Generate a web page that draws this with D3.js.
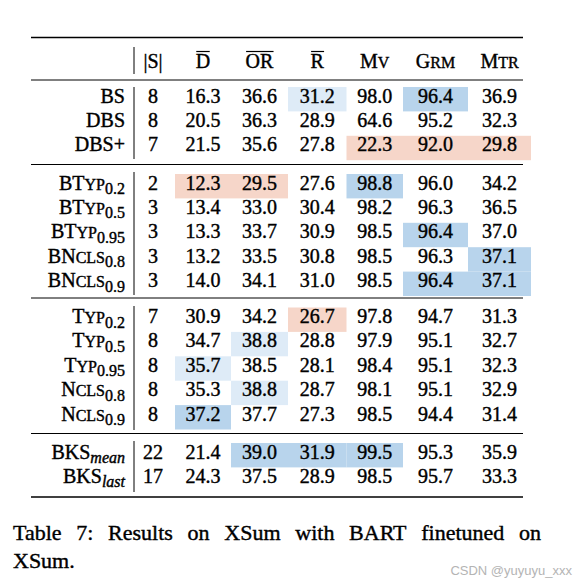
<!DOCTYPE html>
<html><head><meta charset="utf-8">
<script src="https://cdn.jsdelivr.net/npm/d3@7"></script>
<style>
html,body{margin:0;padding:0;background:#fff;}
svg{display:block;}
</style></head>
<body>
<svg id="c" width="588" height="588"></svg>
<script>
// ---------- data ----------
const columns = ["D","OR","R","Mv","Grm","Mtr"];
const rowNames = ["BS","DBS","DBS+","BTyp0.2","BTyp0.5","BTyp0.95","BNcls0.8","BNcls0.9",
  "Typ0.2","Typ0.5","Typ0.95","Ncls0.8","Ncls0.9","BKSmean","BKSlast"];
const rowGroups = [0,0,0,1,1,1,1,1,2,2,2,2,2,3,3];
const sizes = [8,8,7,2,3,3,3,3,7,8,8,8,8,22,17];
const valD   = [16.3,20.5,21.5,12.3,13.4,13.3,13.2,14.0,30.9,34.7,35.7,35.3,37.2,21.4,24.3];
const valOR  = [36.6,36.3,35.6,29.5,33.0,33.7,33.5,34.1,34.2,38.8,38.5,38.8,37.7,39.0,37.5];
const valR   = [31.2,28.9,27.8,27.6,30.4,30.9,30.8,31.0,26.7,28.8,28.1,28.7,27.3,31.9,28.9];
const valMv  = [98.0,64.6,22.3,98.8,98.2,98.5,98.5,98.5,97.8,97.9,98.4,98.1,98.5,99.5,98.5];
const valGrm = [96.4,95.2,92.0,96.0,96.3,96.4,96.3,96.4,94.7,95.1,95.1,95.1,94.4,95.3,95.7];
const valMtr = [36.9,32.3,29.8,34.2,36.5,37.0,37.1,37.1,31.3,32.7,32.3,32.9,31.4,35.9,33.3];
// highlighted cells: [row, column, kind]
const highlights = [
  ["BS","R","light"],["BS","Grm","blue"],
  ["DBS+","Mv","pink"],["DBS+","Grm","pink"],["DBS+","Mtr","pink"],
  ["BTyp0.2","D","pink"],["BTyp0.2","OR","pink"],["BTyp0.2","Mv","blue"],
  ["BTyp0.95","Grm","blue"],["BNcls0.8","Mtr","blue"],
  ["BNcls0.9","Grm","blue"],["BNcls0.9","Mtr","blue"],
  ["Typ0.2","R","pink"],["Typ0.5","OR","light"],["Typ0.95","D","light"],
  ["Ncls0.8","OR","light"],["Ncls0.9","D","blue"],
  ["BKSmean","OR","blue"],["BKSmean","R","blue"],["BKSmean","Mv","blue"]
];
// row label pieces: [normal, smallcaps, subscript, italicSub]
const rowLabelParts = [
  ["BS","","",false],["DBS","","",false],["DBS+","","",false],
  ["BT","YP","0.2",false],["BT","YP","0.5",false],["BT","YP","0.95",false],
  ["BN","CLS","0.8",false],["BN","CLS","0.9",false],
  ["T","YP","0.2",false],["T","YP","0.5",false],["T","YP","0.95",false],
  ["N","CLS","0.8",false],["N","CLS","0.9",false],
  ["BKS","","mean",true],["BKS","","last",true]
];
// header pieces: [normal, smallcaps, overline]
const headerParts = [["D","",true],["OR","",true],["R","",true],["M","V",false],["G","RM",false],["M","TR",false]];
const captionLine1 = "Table 7: Results on XSum with BART finetuned on";
const captionLine2 = "XSum.";
const watermark = "CSDN @yuyuyu_xxx";

// ---------- layout ----------
const SERIF = "'Liberation Serif','Times New Roman',Times,serif";
const values = [valD,valOR,valR,valMv,valGrm,valMtr];
const svg = d3.select("#c");
const FS = 20, SC = 16, SUB = 16;
const colLeft = d3.scaleOrdinal().domain(columns).range([175,231,288,346.5,403,468]);
const colRight = d3.scaleOrdinal().domain(columns).range([231,288,346.5,403,468,531]);
const colX = c => (colLeft(c)+colRight(c))/2;
const xS = 153, xLabelRight = 125, xVert = 134;
const ruleX0 = 31, ruleX1 = 523;
const sectionTop = d3.scaleOrdinal().domain([0,1,2,3]).range([87,174,307.5,443]);
const pitch = 24.4;
const rowIndexInGroup = rowNames.map((r,i)=> rowGroups.slice(0,i).filter(g=>g===rowGroups[i]).length);
const cellTop = i => sectionTop(rowGroups[i]) + rowIndexInGroup[i]*pitch;
const baseline = i => cellTop(i) + 15.5;
const fills = {light:"#deebf7", blue:"#b8d4ec", pink:"#f6d6c9"};
const serifText = sel => sel.style("font-family",SERIF).style("fill","#000")
  .style("stroke","#000").style("stroke-width","0.4px");

// highlights
svg.append("g").selectAll("rect").data(highlights).join("rect")
  .attr("x", d=>colLeft(d[1]))
  .attr("y", d=>cellTop(rowNames.indexOf(d[0])))
  .attr("width", d=>colRight(d[1])-colLeft(d[1]))
  .attr("height", pitch)
  .attr("fill", d=>fills[d[2]]);

// rules
const rules = [[37.5,1.6],[80,1],[164.5,1],[298,1],[433.5,1],[497,1.6]];
svg.append("g").selectAll("line").data(rules).join("line")
  .attr("x1",ruleX0).attr("x2",ruleX1).attr("y1",d=>d[0]).attr("y2",d=>d[0])
  .attr("stroke","#000").attr("stroke-width",d=>d[1]);

// vertical lines
const vSegs = [[47,74],[87,159],[172,295],[306,430],[441,492]];
svg.append("g").selectAll("line").data(vSegs).join("line")
  .attr("x1",xVert).attr("x2",xVert).attr("y1",d=>d[0]).attr("y2",d=>d[1])
  .attr("stroke","#000").attr("stroke-width",1);

// header
const hb = 68;
svg.append("text").attr("x",xS).attr("y",hb).attr("text-anchor","middle")
  .attr("font-size",FS).call(serifText).text("|S|");
const hdr = svg.append("g");
headerParts.forEach((p,k)=>{
  const t = hdr.append("text").attr("x",colX(columns[k])).attr("y",hb)
    .attr("text-anchor","middle").attr("font-size",FS).call(serifText);
  t.append("tspan").text(p[0]);
  if(p[1]) t.append("tspan").attr("font-size",SC).text(p[1]);
  if(p[2]){
    const bb = t.node().getBBox();
    hdr.append("line").attr("x1",bb.x+0.5).attr("x2",bb.x+bb.width-0.5)
      .attr("y1",hb-16.5).attr("y2",hb-16.5).attr("stroke","#000").attr("stroke-width",1.2);
  }
});

// row labels
const lab = svg.append("g");
rowLabelParts.forEach((p,i)=>{
  const t = lab.append("text").attr("x",xLabelRight).attr("y",baseline(i))
    .attr("text-anchor","end").attr("font-size",FS).call(serifText);
  t.append("tspan").text(p[0]);
  if(p[1]) t.append("tspan").attr("font-size",SC).text(p[1]);
  if(p[2]) t.append("tspan").attr("font-size",SUB).attr("dy",4.5)
      .style("font-style",p[3]?"italic":"normal").text(p[2]);
});

// sizes column
svg.append("g").selectAll("text").data(sizes).join("text")
  .attr("x",xS).attr("y",(d,i)=>baseline(i)).attr("text-anchor","middle")
  .attr("font-size",FS).call(serifText).text(d=>d);

// values
const cells = [];
values.forEach((arr,k)=>arr.forEach((v,i)=>cells.push({c:columns[k],i,v})));
svg.append("g").selectAll("text").data(cells).join("text")
  .attr("x",d=>colX(d.c)).attr("y",d=>baseline(d.i)).attr("text-anchor","middle")
  .attr("font-size",FS).call(serifText).text(d=>d3.format(".1f")(d.v));

// caption (justified first line)
const capFS = 22, capX0 = 13, capX1 = 541;
const words = captionLine1.split(" ");
const cap = svg.append("g");
const wNodes = words.map(w=>cap.append("text").attr("y",540).attr("font-size",capFS).call(serifText).text(w));
const widths = wNodes.map(n=>n.node().getComputedTextLength());
const gap = (capX1-capX0-d3.sum(widths))/(words.length-1);
let cx = capX0;
wNodes.forEach((n,k)=>{ n.attr("x",cx); cx += widths[k]+gap; });
cap.append("text").attr("x",capX0).attr("y",568).attr("font-size",capFS).call(serifText).text(captionLine2);

// watermark
svg.append("text").attr("x",572).attr("y",575).attr("text-anchor","end")
  .style("font-family","'Liberation Sans',Arial,sans-serif").style("font-size","13px")
  .style("fill","#b4b4b4").text(watermark);
</script>
</body></html>
